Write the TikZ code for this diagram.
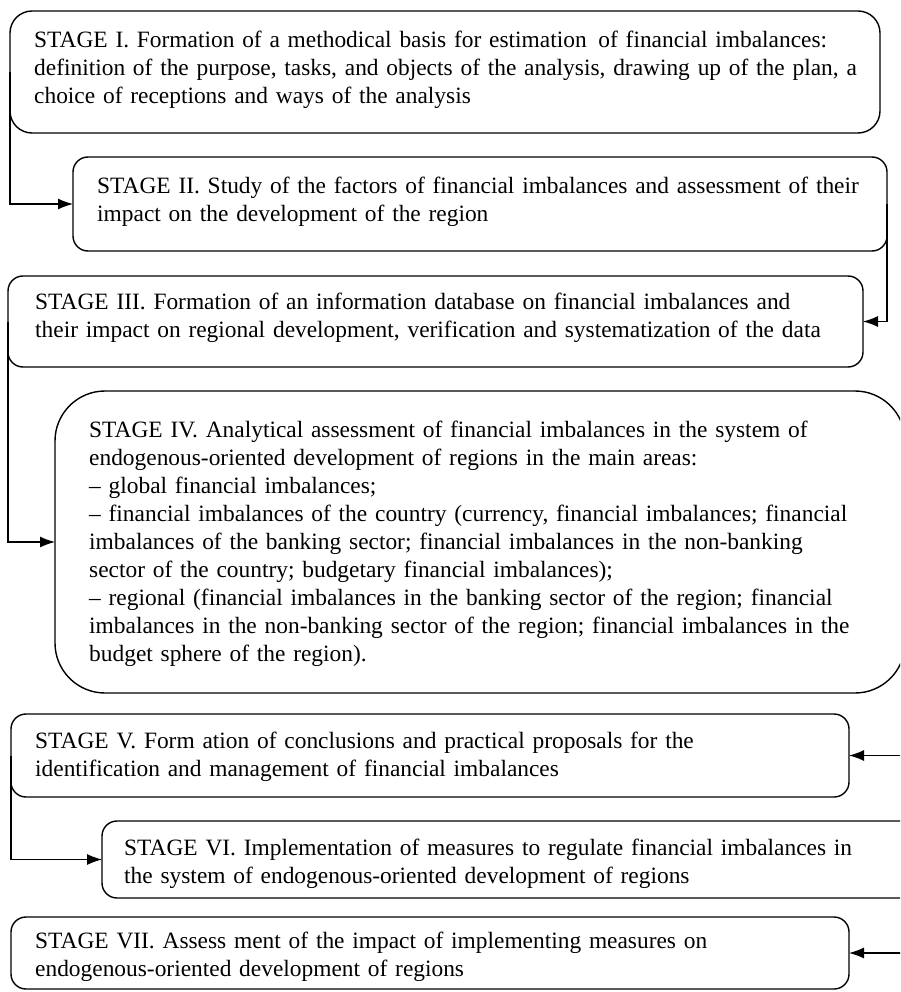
\documentclass[tikz,border=0pt]{standalone}
\usepackage{fontspec}
\setmainfont{Liberation Serif}
\usetikzlibrary{arrows.meta}
\begin{document}
\begin{tikzpicture}[x=1pt,y=-1pt,
  stagebox/.style={draw, line width=1.4pt, rectangle, inner sep=0pt, outer sep=0pt},
  stagetext/.style={anchor=base west, inner sep=0pt, text width=880pt, align=left, font=\fontsize{23.4}{28}\selectfont},
  arr/.style={line width=1.2pt, -{Latex[length=15pt,width=11pt]}}]
\useasboundingbox (0,0) rectangle (900,992);
\clip (0,0) rectangle (900,992);

\node[stagebox, rounded corners=22pt, minimum width=870pt, minimum height=122pt] (b1) at (445,72) {};
\node[stagebox, rounded corners=15pt, minimum width=814pt, minimum height=94pt] (b2) at (480,204) {};
\node[stagebox, rounded corners=15pt, minimum width=855pt, minimum height=91pt] (b3) at (435.5,321.5) {};
\node[stagebox, rounded corners=50pt, minimum width=850pt, minimum height=302pt] (b4) at (480,542) {};
\node[stagebox, rounded corners=15pt, minimum width=838pt, minimum height=83pt] (b5) at (430,755.5) {};
\node[stagebox, rounded corners=15pt, minimum width=858pt, minimum height=77pt] (b6) at (531,859.5) {};
\node[stagebox, rounded corners=15pt, minimum width=838pt, minimum height=72pt] (b7) at (430,953) {};

\node[stagetext] (t1) at (34,48) {STAGE I. Formation of a methodical basis for estimation \,of financial imbalances:\\definition of the purpose, tasks, and objects of the analysis, drawing up of the plan, a\\choice of receptions and ways of the analysis};
\node[stagetext] (t2) at (97,194) {STAGE II. Study of the factors of financial imbalances and assessment of their\\impact on the development of the region};
\node[stagetext] (t3) at (35,309) {STAGE III. Formation of an information database on financial imbalances and\\their impact on regional development, verification and systematization of the data};
\node[stagetext] (t4) at (89,437) {STAGE IV. Analytical assessment of financial imbalances in the system of\\endogenous-oriented development of regions in the main areas:\\– global financial imbalances;\\– financial imbalances of the country (currency, financial imbalances; financial\\imbalances of the banking sector; financial imbalances in the non-banking\\sector of the country; budgetary financial imbalances);\\– regional (financial imbalances in the banking sector of the region; financial\\imbalances in the non-banking sector of the region; financial imbalances in the\\budget sphere of the region).};
\node[stagetext] (t5) at (35,748) {STAGE V. Form ation of conclusions and practical proposals for the\\identification and management of financial imbalances};
\node[stagetext] (t6) at (124,855) {STAGE VI. Implementation of measures to regulate financial imbalances in\\the system of endogenous-oriented development of regions};
\node[stagetext] (t7) at (35,948) {STAGE VII. Assess ment of the impact of implementing measures on\\endogenous-oriented development of regions};

\coordinate (c5) at (905,755.5);
\coordinate (c7) at (905,953);
\draw[arr] (b1.west) |- (b2.west);
\draw[arr] (b2.east) |- (b3.east);
\draw[arr] (b3.west) |- (b4.west);
\draw[arr] (c5) -- (b5.east);
\draw[arr] (b5.west) |- (b6.west);
\draw[arr] (c7) -- (b7.east);
\end{tikzpicture}
\end{document}
